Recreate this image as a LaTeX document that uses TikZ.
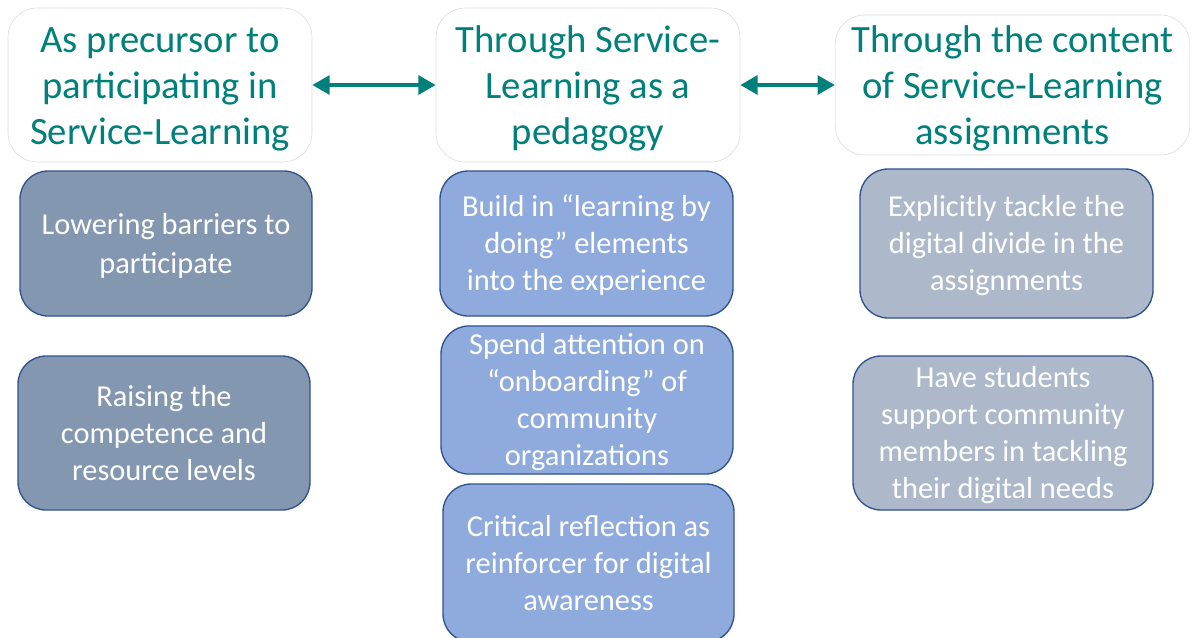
\documentclass[tikz,border=0pt]{standalone}
\usepackage{fontspec}
\setmainfont{Carlito}
\usetikzlibrary{arrows.meta}
\definecolor{myteal}{RGB}{0,128,122}
\definecolor{myslate}{HTML}{8497B0}
\definecolor{myblue}{HTML}{8FAADC}
\definecolor{mygrey}{HTML}{ADB9CA}
\definecolor{myedge}{HTML}{2F528F}
\definecolor{myframe}{HTML}{D9D9D9}
\newcommand{\ls}{\rule[-0.269em]{0pt}{1.221em}}

\begin{document}
\begin{tikzpicture}[x=0.75pt,y=-0.75pt]
\tikzset{HeadStyle/.style={draw=myframe, fill=white, rounded corners=22pt, text=myteal, align=center,
  font=\fontsize{29}{34.5}\selectfont, inner sep=0}}
\tikzset{BoxStyle/.style={draw=myedge, line width=1pt, rounded corners=21pt, text=white, align=center,
  font=\fontsize{22.8}{27.75}\selectfont, inner sep=0}}
\tikzset{LinkStyle/.style={myteal, line width=3pt, {Triangle[length=13pt,width=14pt]}-{Triangle[length=13pt,width=14pt]}}}
\useasboundingbox (0,0) rectangle (1195,637);
\clip (0,0) rectangle (1195,637);
% headers
\node[HeadStyle, minimum width=228pt, minimum height=115.5pt] (precursor) at (160,85)
  {\ls As precursor to\\participating in\\Service-Learning\ls};
\node[HeadStyle, minimum width=228pt, minimum height=115.5pt] (pedagogy) at (588,85)
  {\ls Through Service-\\Learning as a\\pedagogy\ls};
\node[HeadStyle, minimum width=266pt, minimum height=105pt] (content) at (1012.5,85)
  {\ls Through the content\\of Service-Learning\\assignments\ls};
\draw[LinkStyle] (precursor) -- (pedagogy);
\draw[LinkStyle] (pedagogy) -- (content);
% left column
\node[BoxStyle, fill=myslate, minimum width=219pt, minimum height=108.75pt] (lower) at (166,243.5)
  {\ls Lowering barriers to\\participate\ls};
\node[BoxStyle, fill=myslate, minimum width=219pt, minimum height=115.5pt] (raise) at (164,433)
  {\ls Raising the\\competence and\\resource levels\ls};
% middle column
\node[BoxStyle, fill=myblue, minimum width=219.75pt, minimum height=108.75pt] (doing) at (586.5,243.5)
  {\ls Build in “learning by\\doing” elements\\into the experience\ls};
\node[BoxStyle, fill=myblue, minimum width=219pt, minimum height=111pt] (onboard) at (587,400)
  {\ls Spend attention on\\“onboarding” of\\community\\organizations\ls};
\node[BoxStyle, fill=myblue, minimum width=218.25pt, minimum height=118.5pt] (reflect) at (588.5,563)
  {\ls Critical reflection as\\reinforcer for digital\\awareness\ls};
% right column
\node[BoxStyle, fill=mygrey, minimum width=219.75pt, minimum height=111.75pt] (divide) at (1006.5,243.5)
  {\ls Explicitly tackle the\\digital divide in the\\assignments\ls};
\node[BoxStyle, fill=mygrey, minimum width=225pt, minimum height=115.5pt] (support) at (1003,433)
  {\ls Have students\\support community\\members in tackling\\their digital needs\ls};
\end{tikzpicture}
\end{document}
